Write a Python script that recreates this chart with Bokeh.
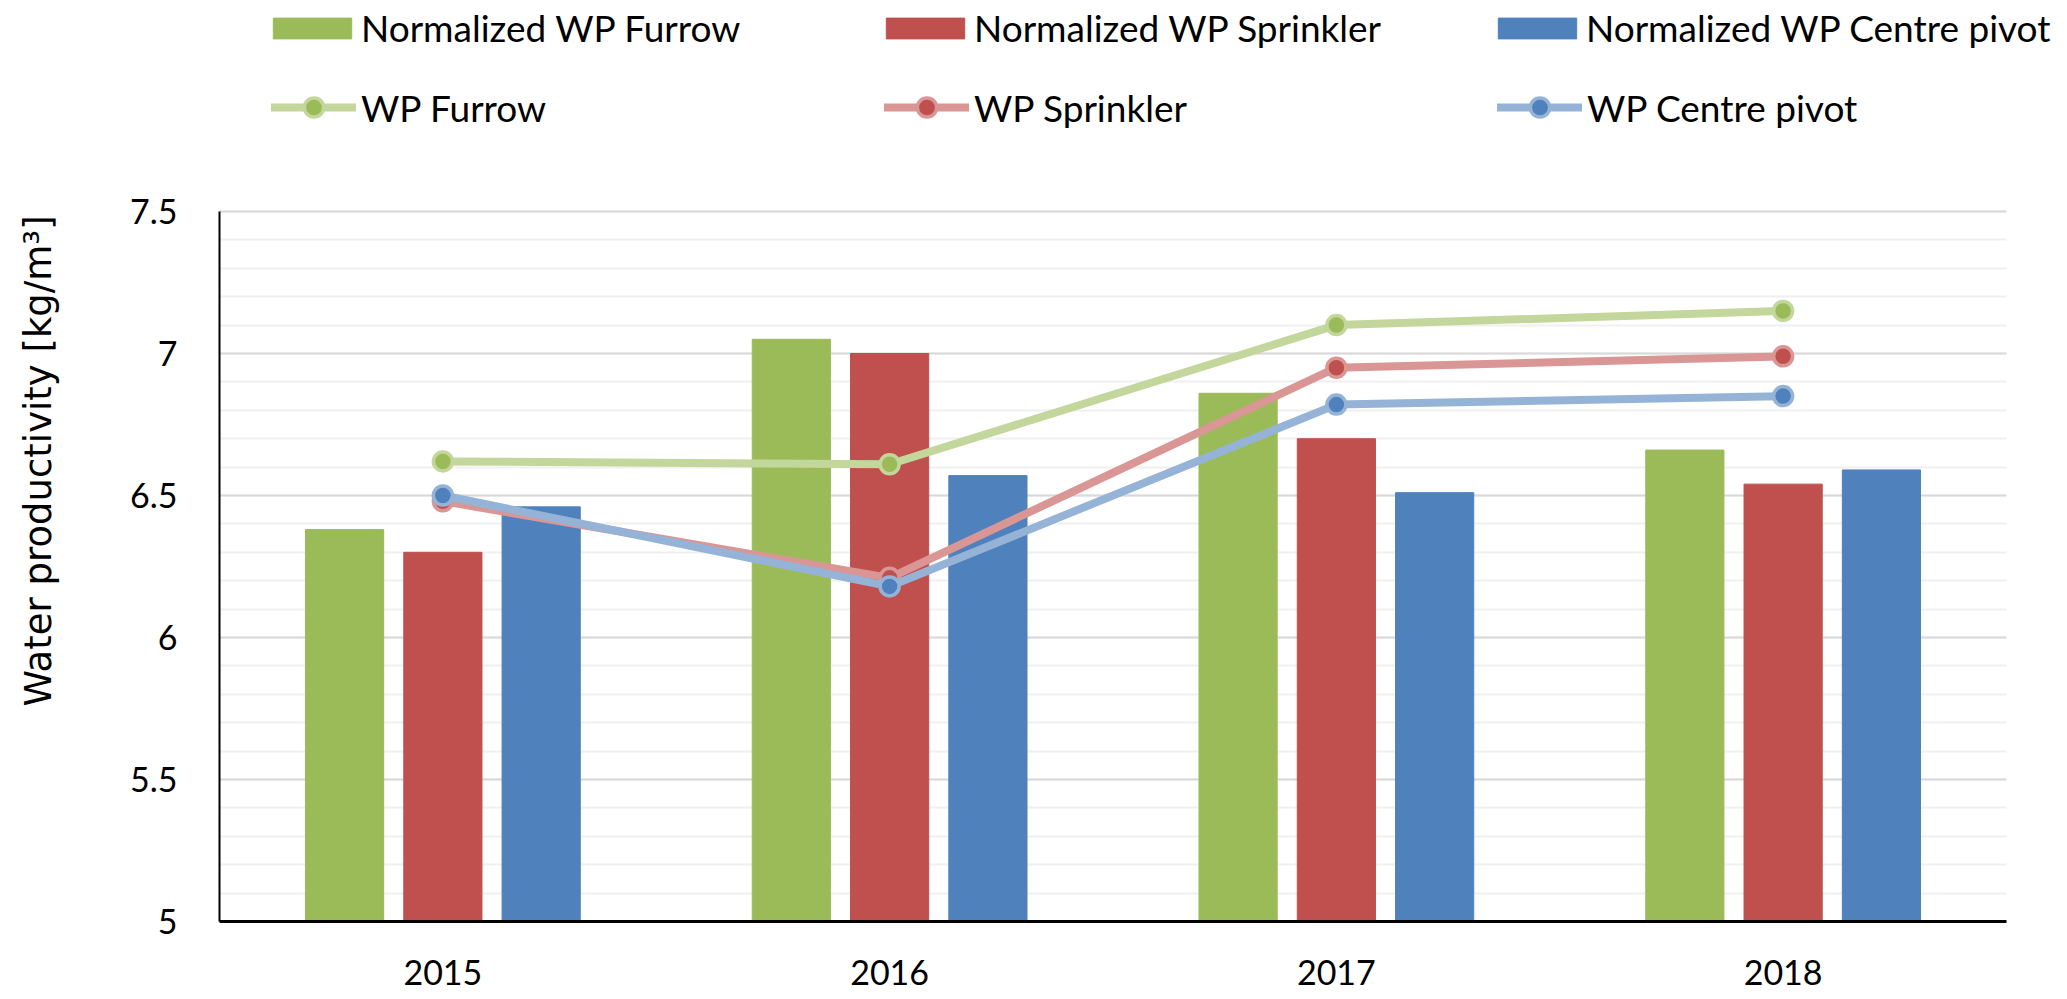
from bokeh.plotting import figure
from bokeh.models import (Range1d, SingleIntervalTicker, FixedTicker, CustomJSTickFormatter,
                          Legend, LegendItem, ColumnDataSource, BoxAnnotation, LinearAxis)
from bokeh.transform import dodge
from bokeh.embed import file_html
from bokeh.resources import INLINE

years = [2015, 2016, 2017, 2018]
norm_furrow = [6.38, 7.05, 6.86, 6.66]
norm_sprinkler = [6.30, 7.00, 6.70, 6.54]
norm_pivot = [6.46, 6.57, 6.51, 6.59]
wp_furrow = [6.62, 6.61, 7.10, 7.15]
wp_sprinkler = [6.48, 6.21, 6.95, 6.99]
wp_pivot = [6.50, 6.18, 6.82, 6.85]
y_min, y_max = 5.0, 7.5

bar_labels = ["Normalized WP Furrow", "Normalized WP Sprinkler", "Normalized WP Centre pivot"]
line_labels = ["WP Furrow", "WP Sprinkler", "WP Centre pivot"]
y_title = "Water productivity [kg/m\u00b3]"

dark = ["#9BBB59", "#C0504D", "#4F81BD"]
light = ["#C3D69B", "#D99694", "#95B3D7"]

src = ColumnDataSource(dict(year=years, nf=norm_furrow, ns=norm_sprinkler, np_=norm_pivot,
                            wf=wp_furrow, ws=wp_sprinkler, wc=wp_pivot))

FONT = "Lato"
# page layout (pixels)
W, H = 2060, 998
LEFT = 219            # plot area left edge
PLOT_W = 1787         # width of the category area
PLOT_BOTTOM = 921     # y of the x axis
PLOT_H = 710          # height of the value axis (5 .. 7.5)
TITLE_CY = 442        # vertical centre of the y-axis title

x0 = years[0] - 0.5
x1 = years[-1] + 0.5
x_end = x1 + (W - LEFT - PLOT_W) / PLOT_W * (x1 - x0)
y_end = y_min + (y_max - y_min) * PLOT_BOTTOM / PLOT_H

p = figure(x_range=Range1d(x0, x_end), y_range=Range1d(y_min, y_end),
           width=W, height=H, output_backend="svg", toolbar_location=None,
           min_border_left=LEFT, min_border_right=0, min_border_top=0,
           min_border_bottom=H - PLOT_BOTTOM)
p.outline_line_color = None
p.background_fill_color = "white"

# grid
p.xgrid.grid_line_color = None
p.yaxis.ticker = SingleIntervalTicker(interval=0.5, num_minor_ticks=5)
p.yaxis.bounds = (y_min, y_max)
p.ygrid.bounds = (y_min, y_max)
p.ygrid.grid_line_color = "#D9D9D9"
p.ygrid.grid_line_width = 2
p.ygrid.minor_grid_line_color = "#F0F0F0"
p.ygrid.minor_grid_line_width = 2
# keep the grid inside the category area
p.add_layout(BoxAnnotation(left=x1, fill_color="white", fill_alpha=1.0, line_color=None,
                           level="underlay"))

# bars
bar_cols = ["nf", "ns", "np_"]
offsets = [-0.22, 0.0, 0.22]
bar_r = []
for col, off, c in zip(bar_cols, offsets, dark):
    r = p.vbar(x=dodge("year", off, range=p.x_range), top=col, bottom=y_min, width=0.175,
               source=src, fill_color=c, line_color=c, line_width=1)
    bar_r.append(r)

# lines
line_cols = ["wf", "ws", "wc"]
line_r = []
for col, cd, cl in zip(line_cols, dark, light):
    l = p.line(x="year", y=col, source=src, line_color=cl, line_width=8, line_cap="round")
    s = p.scatter(x="year", y=col, source=src, size=19, fill_color=cd, line_color=cl, line_width=3.5)
    line_r.append((l, s))

# axes
p.yaxis.formatter = CustomJSTickFormatter(code="return tick.toString();")
p.yaxis.major_label_text_font = FONT
p.yaxis.major_label_text_font_size = "34px"
p.yaxis.major_label_text_color = "black"
p.yaxis.major_label_standoff = 36
p.yaxis.major_tick_line_color = None
p.yaxis.minor_tick_line_color = None
p.yaxis.axis_line_color = "black"
p.yaxis.axis_line_width = 2

p.xaxis.ticker = FixedTicker(ticks=years)
p.xaxis.bounds = (x0, x1)
p.xaxis.major_label_text_font = FONT
p.xaxis.major_label_text_font_size = "34px"
p.xaxis.major_label_text_color = "black"
p.xaxis.major_label_standoff = 32
p.xaxis.major_tick_line_color = None
p.xaxis.minor_tick_line_color = None
p.xaxis.axis_line_color = "black"
p.xaxis.axis_line_width = 3

# y-axis title carried by a bare axis so that it can be centred where the reference has it
cy = y_min + (PLOT_BOTTOM - TITLE_CY) / PLOT_H * (y_max - y_min)
title_axis = LinearAxis(ticker=FixedTicker(ticks=[]), bounds=(cy - 1.5, cy + 1.5),
                        axis_label=y_title, axis_label_standoff=68,
                        axis_label_text_font="DejaVu Sans", axis_label_text_font_style="normal",
                        axis_label_text_font_size="37px", axis_label_text_color="black",
                        axis_line_color=None, major_tick_line_color=None,
                        minor_tick_line_color=None, major_tick_out=0, major_tick_in=0,
                        minor_tick_out=0, minor_tick_in=0)
p.add_layout(title_axis, "left")

# legend: six single-entry legends laid out as 3 columns x 2 rows above the chart
bar_vx = [44, 657, 1269]
line_vx = [52, 665, 1278]

def mk_legend(item, loc, gw, gh, standoff):
    lg = Legend(items=[item], location=loc, orientation="horizontal", padding=0, margin=0,
                spacing=0, border_line_color=None, background_fill_alpha=0,
                label_text_font=FONT, label_text_font_size="37px", label_text_color="black",
                glyph_width=gw, glyph_height=gh, label_standoff=standoff)
    p.add_layout(lg)

for lab, r, vx in zip(bar_labels, bar_r, bar_vx):
    mk_legend(LegendItem(label=lab, renderers=[r]), (vx, 871), 98, 26, 0)
for lab, (l, s), vx in zip(line_labels, line_r, line_vx):
    mk_legend(LegendItem(label=lab, renderers=[l, s]), (vx, 790), 85, 48, 5)

open("out.html", "w").write(file_html(p, INLINE))
